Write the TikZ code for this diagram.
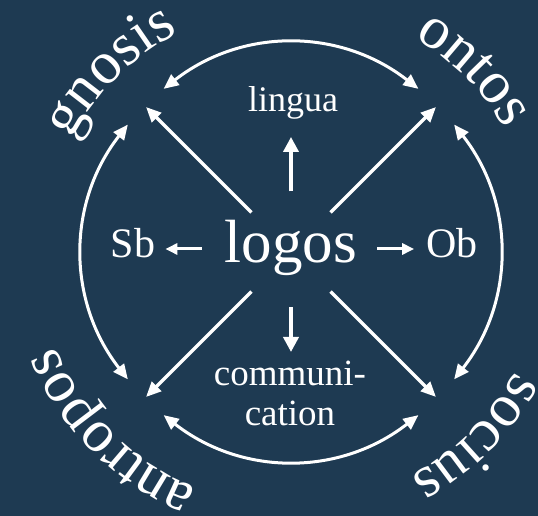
\documentclass[tikz,border=0pt]{standalone}
\usepackage{fontspec}
\setmainfont{Liberation Serif}
\usepackage{tikz}
\usetikzlibrary{arrows.meta, calc, decorations.text}
\definecolor{bgblue}{HTML}{1E3A52}
\newcommand{\ringfont}{\fontsize{60}{60}\selectfont}
\tikzset{
  core/.style={text=white, inner sep=0pt, font=\fontsize{61}{61}\selectfont},
  side/.style={text=white, inner sep=0pt, font=\fontsize{42}{42}\selectfont},
  lang/.style={text=white, inner sep=0pt, align=center, font=\fontsize{37}{40}\selectfont},
  fl/.style={-{Triangle[length=15pt,width=13pt]}, draw=white, line width=3.2pt},
  bfl/.style={{Triangle[length=15pt,width=13pt]}-{Triangle[length=15pt,width=13pt]}, draw=white, line width=3pt},
  vfl/.style={-{Triangle[length=15pt,width=15pt]}, draw=white, line width=3.6pt},
  hfl/.style={-{Triangle[length=12pt,width=11pt]}, draw=white, line width=3pt},
  ring/.style={decorate, decoration={text along path, text align=center, text={|\ringfont\color{white}|#1}}}
}

\begin{document}
\begin{tikzpicture}[x=1pt, y=1pt]
\fill[bgblue] (0,0) rectangle (538,516);
\useasboundingbox (0,0) rectangle (538,516);
\coordinate (o) at (291,264);
\node[core, anchor=base] (logos) at (291,253) {logos};
\node[side, anchor=base] (Sb) at (133,258) {Sb};
\node[side, anchor=base] (Ob) at (452,258) {Ob};
\node[lang, anchor=base, font=\fontsize{36}{40}\selectfont] (lingua) at (293,404) {lingua};
\node[lang, anchor=north] (comm) at (290,155) {communi-\\cation};
\coordinate (lw) at ($(logos.base west)+(0,14)$);
\coordinate (le) at ($(logos.base east)+(0,14)$);
\coordinate (gn) at ($(o)+(135:205)$);
\coordinate (on) at ($(o)+(45:205)$);
\coordinate (so) at ($(o)+(-45:205)$);
\coordinate (an) at ($(o)+(-135:205)$);
\coordinate (gnT) at ($(o)+(128:207)$);
\coordinate (onT) at ($(o)+(52:207)$);
\coordinate (onR) at ($(o)+(38:207)$);
\coordinate (soR) at ($(o)+(-38:207)$);
\coordinate (soB) at ($(o)+(-52:207)$);
\coordinate (anB) at ($(o)+(-128:207)$);
\coordinate (anL) at ($(o)+(-142:207)$);
\coordinate (gnL) at ($(o)+(142:207)$);
\draw[fl, shorten <=56pt] (o) -- (gn);
\draw[fl, shorten <=56pt] (o) -- (on);
\draw[fl, shorten <=56pt] (o) -- (so);
\draw[fl, shorten <=56pt] (o) -- (an);
\draw[bfl] (gnT) to[bend left=38] (onT);
\draw[bfl] (onR) to[bend left=38] (soR);
\draw[bfl] (soB) to[bend left=38] (anB);
\draw[bfl] (anL) to[bend left=38] (gnL);
\draw[hfl, shorten <=23pt, shorten >=10pt] (lw) -- (lw -| Sb.east);
\draw[hfl, shorten <=20pt, shorten >=12pt] (le) -- (le -| Ob.west);
\draw[vfl, shorten <=29pt, shorten >=17pt] (logos.north) -- (logos.north |- lingua.south);
\draw[vfl, shorten <=31pt, shorten >=9pt] (logos.south) -- (logos.south |- comm.north);
\path[ring=gnosis] ($(o)+(180:246)$) arc[start angle=180, end angle=90, radius=246];
\path[ring=ontos] ($(o)+(90:247)$) arc[start angle=90, end angle=0, radius=247];
\path[ring=socius] ($(o)+(0:254)$) arc[start angle=0, end angle=-90, radius=254];
\path[ring=antropos] ($(o)+(-90:254)$) arc[start angle=-90, end angle=-180, radius=254];
\end{tikzpicture}
\end{document}
